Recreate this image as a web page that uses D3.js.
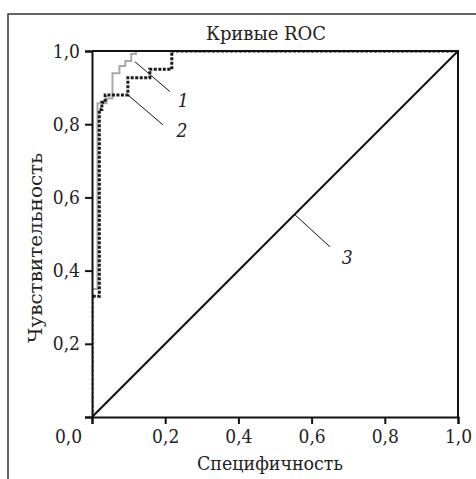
<!DOCTYPE html>
<html><head><meta charset="utf-8">
<script src="https://cdn.jsdelivr.net/npm/d3@7"></script>
<style>body{margin:0;background:#fff}svg{display:block}
text{font-family:'DejaVu Serif Condensed','DejaVu Serif',serif}
</style>
</head><body><svg id="c" width="476" height="479"></svg>
<script>
const title = "Кривые ROC";
const xLabel = "Специфичность";
const yLabel = "Чувствительность";
const tickValues = [0, 0.2, 0.4, 0.6, 0.8, 1.0];
const tickLabels = ["0,0", "0,2", "0,4", "0,6", "0,8", "1,0"];
const curve1X = [0, 0, 0.015, 0.015, 0.04, 0.04, 0.056, 0.056, 0.075, 0.075, 0.091, 0.091, 0.107, 0.107, 0.12, 0.12, 1];
const curve1Y = [0, 0.35, 0.35, 0.857, 0.857, 0.87, 0.87, 0.939, 0.939, 0.959, 0.959, 0.973, 0.973, 0.992, 0.992, 1, 1];
const curve2X = [0, 0, 0.02, 0.02, 0.027, 0.027, 0.036, 0.036, 0.098, 0.098, 0.158, 0.158, 0.218, 0.218, 1];
const curve2Y = [0, 0.33, 0.33, 0.84, 0.84, 0.86, 0.86, 0.88, 0.88, 0.927, 0.927, 0.95, 0.95, 1, 1];
const curve3X = [0, 1];
const curve3Y = [0, 1];
const annLabels = ["1", "2", "3"];
const annFromX = [0.117, 0.098, 0.555];
const annFromY = [0.971, 0.88, 0.552];
const annToX = [0.213, 0.194, 0.650];
const annToY = [0.889, 0.798, 0.465];
const annTextX = [0.249, 0.246, 0.697];
const annTextY = [0.866, 0.784, 0.437];

const svg = d3.select("#c");
const L = 92, R = 458, T = 51, B = 417;
const x = d3.scaleLinear().domain([0, 1]).range([L, R]);
const y = d3.scaleLinear().domain([0, 1]).range([B, T]);

svg.append("defs").append("clipPath").attr("id", "plotclip")
  .append("rect").attr("x", L + 1).attr("y", T + 1).attr("width", R - L - 2).attr("height", B - T);
svg.append("path").attr("d", `M8,479 L8,14 L476,14`).attr("fill", "none").attr("stroke", "#333").attr("stroke-width", 1.5);
svg.append("text").attr("x", 266).attr("y", 40).attr("text-anchor", "middle").attr("font-size", 18)
  .attr("textLength", 120).attr("lengthAdjust", "spacingAndGlyphs").attr("fill", "#222").text(title);

const line = d3.line().x(d => x(d[0])).y(d => y(d[1]));
const pts = (xs, ys) => xs.map((v, i) => [v, ys[i]]);
const gc = svg.append("g").attr("clip-path", "url(#plotclip)");
gc.append("path").datum(pts(curve3X, curve3Y)).attr("d", line).attr("fill", "none").attr("stroke", "#111").attr("stroke-width", 2);
gc.append("path").datum(pts(curve1X, curve1Y)).attr("d", line).attr("fill", "none").attr("stroke", "#a8a8a8").attr("stroke-width", 2);
gc.append("path").datum(pts(curve2X, curve2Y)).attr("d", line).attr("fill", "none").attr("stroke", "#1a1a1a").attr("stroke-width", 3).attr("stroke-dasharray", "3,1.5");
svg.append("path").attr("d", `M${L},${T} L${R},${T} L${R},${B}`).attr("fill", "none").attr("stroke", "#111").attr("stroke-width", 2);

const xAxis = d3.axisBottom(x).tickValues(tickValues).tickFormat((d, i) => tickLabels[i]).tickSize(7).tickPadding(6);
const yAxis = d3.axisLeft(y).tickValues(tickValues).tickFormat((d, i) => tickLabels[i]).tickSize(7).tickPadding(5);
const gx = svg.append("g").attr("transform", `translate(0,${B})`).call(xAxis);
const gy = svg.append("g").attr("transform", `translate(${L},0)`).call(yAxis);
[gx, gy].forEach(g => {
  g.attr("font-family", null).attr("font-size", 19);
  g.select(".domain").attr("stroke", "#111").attr("stroke-width", 2);
  g.selectAll(".tick line").attr("stroke", "#111").attr("stroke-width", 2);
  g.selectAll(".tick text").attr("fill", "#222");
});
gy.selectAll(".tick").filter(d => d === 0).select("text").remove();
gx.selectAll(".tick").filter(d => d === 0).select("text").attr("dx", -24);

svg.append("text").attr("x", 270).attr("y", 470).attr("text-anchor", "middle").attr("font-size", 18)
  .attr("textLength", 146).attr("lengthAdjust", "spacingAndGlyphs").attr("fill", "#222").text(xLabel);
svg.append("text").attr("transform", "translate(42,248) rotate(-90)").attr("text-anchor", "middle").attr("font-size", 18)
  .attr("textLength", 190).attr("lengthAdjust", "spacingAndGlyphs").attr("fill", "#222").text(yLabel);

annLabels.forEach((lab, i) => {
  svg.append("line").attr("x1", x(annFromX[i])).attr("y1", y(annFromY[i])).attr("x2", x(annToX[i])).attr("y2", y(annToY[i])).attr("stroke", "#111").attr("stroke-width", 1);
  svg.append("text").attr("x", x(annTextX[i])).attr("y", y(annTextY[i])).attr("dy", "0.35em").attr("text-anchor", "middle").attr("font-size", 19).attr("font-style", "italic").attr("fill", "#222").text(lab);
});
</script></body></html>
